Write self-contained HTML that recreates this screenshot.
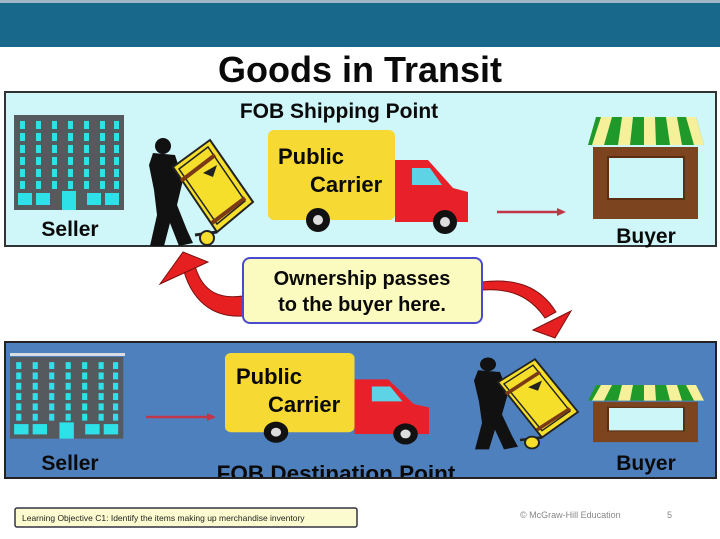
<!DOCTYPE html>
<html><head><meta charset="utf-8"><style>
html,body{margin:0;padding:0;background:#fff;}
svg{display:block;font-family:"Liberation Sans",Arial,sans-serif;}
</style></head><body>
<svg width="720" height="539" viewBox="0 0 720 539" xmlns="http://www.w3.org/2000/svg">
<defs>
<g id="bldg">
  <rect x="0" y="0" width="110" height="95" fill="#555a5e"/>
  <g fill="#2ee0e8">
    <rect x="6" y="6" width="5" height="8"/><rect x="22" y="6" width="5" height="8"/><rect x="38" y="6" width="5" height="8"/><rect x="54" y="6" width="5" height="8"/><rect x="70" y="6" width="5" height="8"/><rect x="86" y="6" width="5" height="8"/><rect x="100" y="6" width="5" height="8"/>
    <rect x="6" y="18" width="5" height="8"/><rect x="22" y="18" width="5" height="8"/><rect x="38" y="18" width="5" height="8"/><rect x="54" y="18" width="5" height="8"/><rect x="70" y="18" width="5" height="8"/><rect x="86" y="18" width="5" height="8"/><rect x="100" y="18" width="5" height="8"/>
    <rect x="6" y="30" width="5" height="8"/><rect x="22" y="30" width="5" height="8"/><rect x="38" y="30" width="5" height="8"/><rect x="54" y="30" width="5" height="8"/><rect x="70" y="30" width="5" height="8"/><rect x="86" y="30" width="5" height="8"/><rect x="100" y="30" width="5" height="8"/>
    <rect x="6" y="42" width="5" height="8"/><rect x="22" y="42" width="5" height="8"/><rect x="38" y="42" width="5" height="8"/><rect x="54" y="42" width="5" height="8"/><rect x="70" y="42" width="5" height="8"/><rect x="86" y="42" width="5" height="8"/><rect x="100" y="42" width="5" height="8"/>
    <rect x="6" y="54" width="5" height="8"/><rect x="22" y="54" width="5" height="8"/><rect x="38" y="54" width="5" height="8"/><rect x="54" y="54" width="5" height="8"/><rect x="70" y="54" width="5" height="8"/><rect x="86" y="54" width="5" height="8"/><rect x="100" y="54" width="5" height="8"/>
    <rect x="6" y="66" width="5" height="8"/><rect x="22" y="66" width="5" height="8"/><rect x="38" y="66" width="5" height="8"/><rect x="54" y="66" width="5" height="8"/><rect x="70" y="66" width="5" height="8"/><rect x="86" y="66" width="5" height="8"/><rect x="100" y="66" width="5" height="8"/>
    <rect x="4" y="78" width="14" height="12"/><rect x="22" y="78" width="14" height="12"/><rect x="48" y="76" width="14" height="19"/><rect x="73" y="78" width="14" height="12"/><rect x="91" y="78" width="14" height="12"/>
  </g>
</g>
<g id="man">
  <circle cx="18" cy="11" r="8" fill="#111"/>
  <polygon points="8,18 30,20 38,45 32,70 42,95 48,108 34,111 25,88 19,111 5,111 12,80 9,55 4,30" fill="#111"/>
  <polygon points="28,32 65,5 108,67 72,97" fill="#f5df2a" stroke="#222" stroke-width="2"/>
  <polygon points="34,34 63,12 100,66 72,89" fill="none" stroke="#222" stroke-width="1.5"/>
  <line x1="36" y1="46" x2="70" y2="20" stroke="#7a3a16" stroke-width="4"/>
  <line x1="67" y1="88" x2="100" y2="63" stroke="#7a3a16" stroke-width="4"/>
  <polygon points="58,38 72,30 68,42" fill="#222"/>
  <line x1="50" y1="100" x2="72" y2="97" stroke="#222" stroke-width="3"/>
  <circle cx="62" cy="103" r="7" fill="#f5df2a" stroke="#222" stroke-width="2"/>
</g>
<g id="store">
  <rect x="5" y="30" width="105" height="72" fill="#7c4520"/>
  <rect x="20" y="40" width="76" height="42" fill="#cdf6f8" stroke="#5a2e10" stroke-width="2"/>
  <path d="M0,28 L8,0 L108,0 L116,28 Z" fill="#1f9a2a"/>
  <g fill="#f6f09a">
    <path d="M4,28 L13,0 L24,0 L16,28 Z"/><path d="M30,28 L34,0 L45,0 L42,28 Z"/><path d="M56,28 L56,0 L67,0 L68,28 Z"/><path d="M82,28 L78,0 L89,0 L94,28 Z"/><path d="M106,28 L98,0 L108,0 L116,28 Z"/>
  </g>
</g>
<g id="truck">
  <rect x="0" y="0" width="127" height="90" rx="6" fill="#f7d934"/>
  <path d="M127,30 L160,30 L185,58 L200,62 L200,92 L127,92 Z" fill="#e8202a"/>
  <path d="M144,38 L162,38 L174,55 L144,55 Z" fill="#5fd3e6"/>
  <circle cx="50" cy="90" r="12" fill="#111"/><circle cx="50" cy="90" r="5" fill="#ddd"/>
  <circle cx="177" cy="92" r="12" fill="#111"/><circle cx="177" cy="92" r="5" fill="#ddd"/>
</g>
<clipPath id="bc"><rect x="5" y="342" width="711" height="136"/></clipPath>
</defs>

<rect x="0" y="0" width="720" height="47" fill="#17688a"/>
<rect x="0" y="0" width="720" height="3" fill="#9fb7c4"/>
<text x="360" y="82" text-anchor="middle" font-size="36" font-weight="bold" fill="#0a0a0a">Goods in Transit</text>

<!-- top panel -->
<rect x="5" y="92" width="711" height="154" fill="#cff6f8" stroke="#333" stroke-width="2"/>
<text x="339" y="118" text-anchor="middle" font-size="21" font-weight="bold" fill="#0a0a0a">FOB Shipping Point</text>
<use href="#bldg" x="14" y="115"/>
<text x="70" y="236" text-anchor="middle" font-size="21" font-weight="bold" fill="#0a0a0a">Seller</text>
<use href="#man" x="145" y="135"/>
<use href="#truck" x="268" y="130"/>
<text x="278" y="164" font-size="22" font-weight="bold" fill="#0a0a0a">Public</text>
<text x="310" y="192" font-size="22" font-weight="bold" fill="#0a0a0a">Carrier</text>
<line x1="497" y1="212" x2="560" y2="212" stroke="#c2364a" stroke-width="2.5"/>
<polygon points="566,212 557,208 557,216" fill="#c2364a"/>
<use href="#store" x="588" y="117"/>
<text x="646" y="243" text-anchor="middle" font-size="21" font-weight="bold" fill="#0a0a0a">Buyer</text>

<!-- arrows -->
<path d="M243,296 C215,300 200,288 194,262 L182,264 C190,300 212,318 243,316 Z" fill="#e62020" stroke="#7a1010" stroke-width="1"/>
<polygon points="160,284 183,252 208,262" fill="#e62020" stroke="#7a1010" stroke-width="1"/>
<path d="M482,290 C510,288 530,296 545,318 L556,312 C540,286 515,278 482,282 Z" fill="#e62020" stroke="#7a1010" stroke-width="1"/>
<polygon points="533,330 571,311 555,338" fill="#e62020" stroke="#7a1010" stroke-width="1"/>

<rect x="243" y="258" width="239" height="65" rx="7" fill="#fcfbbf" stroke="#4a4ad0" stroke-width="2"/>
<text x="362" y="285" text-anchor="middle" font-size="20" font-weight="bold" fill="#0a0a0a">Ownership passes</text>
<text x="362" y="311" text-anchor="middle" font-size="20" font-weight="bold" fill="#0a0a0a">to the buyer here.</text>

<!-- bottom panel -->
<rect x="5" y="342" width="711" height="136" fill="#4f80be"/>
<g clip-path="url(#bc)">
<rect x="10" y="353" width="115" height="3" fill="#d8dde2"/>
<use href="#bldg" transform="translate(10 357) scale(1.03 0.86)"/>
<text x="70" y="470" text-anchor="middle" font-size="21" font-weight="bold" fill="#0a0a0a">Seller</text>
<line x1="146" y1="417" x2="210" y2="417" stroke="#c2364a" stroke-width="2.5"/>
<polygon points="216,417 207,413 207,421" fill="#c2364a"/>
<use href="#truck" transform="translate(225 353) scale(1.02 0.88)"/>
<text x="236" y="384" font-size="22" font-weight="bold" fill="#0a0a0a">Public</text>
<text x="268" y="412" font-size="22" font-weight="bold" fill="#0a0a0a">Carrier</text>
<use href="#man" transform="translate(470 355) scale(1 0.85)"/>
<use href="#store" transform="translate(588 385) scale(1 0.56)"/>
<text x="646" y="470" text-anchor="middle" font-size="21" font-weight="bold" fill="#0a0a0a">Buyer</text>
<text x="336" y="481" text-anchor="middle" font-size="22.5" font-weight="bold" fill="#0a0a0a">FOB Destination Point</text>
</g>
<rect x="5" y="342" width="711" height="136" fill="none" stroke="#222" stroke-width="2"/>

<!-- footer -->
<rect x="15" y="508" width="342" height="19" rx="2" fill="#fcfbd0" stroke="#334" stroke-width="1.5"/>
<text x="22" y="521" font-size="8.5" fill="#222">Learning Objective C1: Identify the items making up merchandise inventory</text>
<text x="520" y="518" font-size="9" fill="#888">© McGraw-Hill Education</text>
<text x="667" y="518" font-size="9" fill="#888">5</text>
</svg>
</body></html>
